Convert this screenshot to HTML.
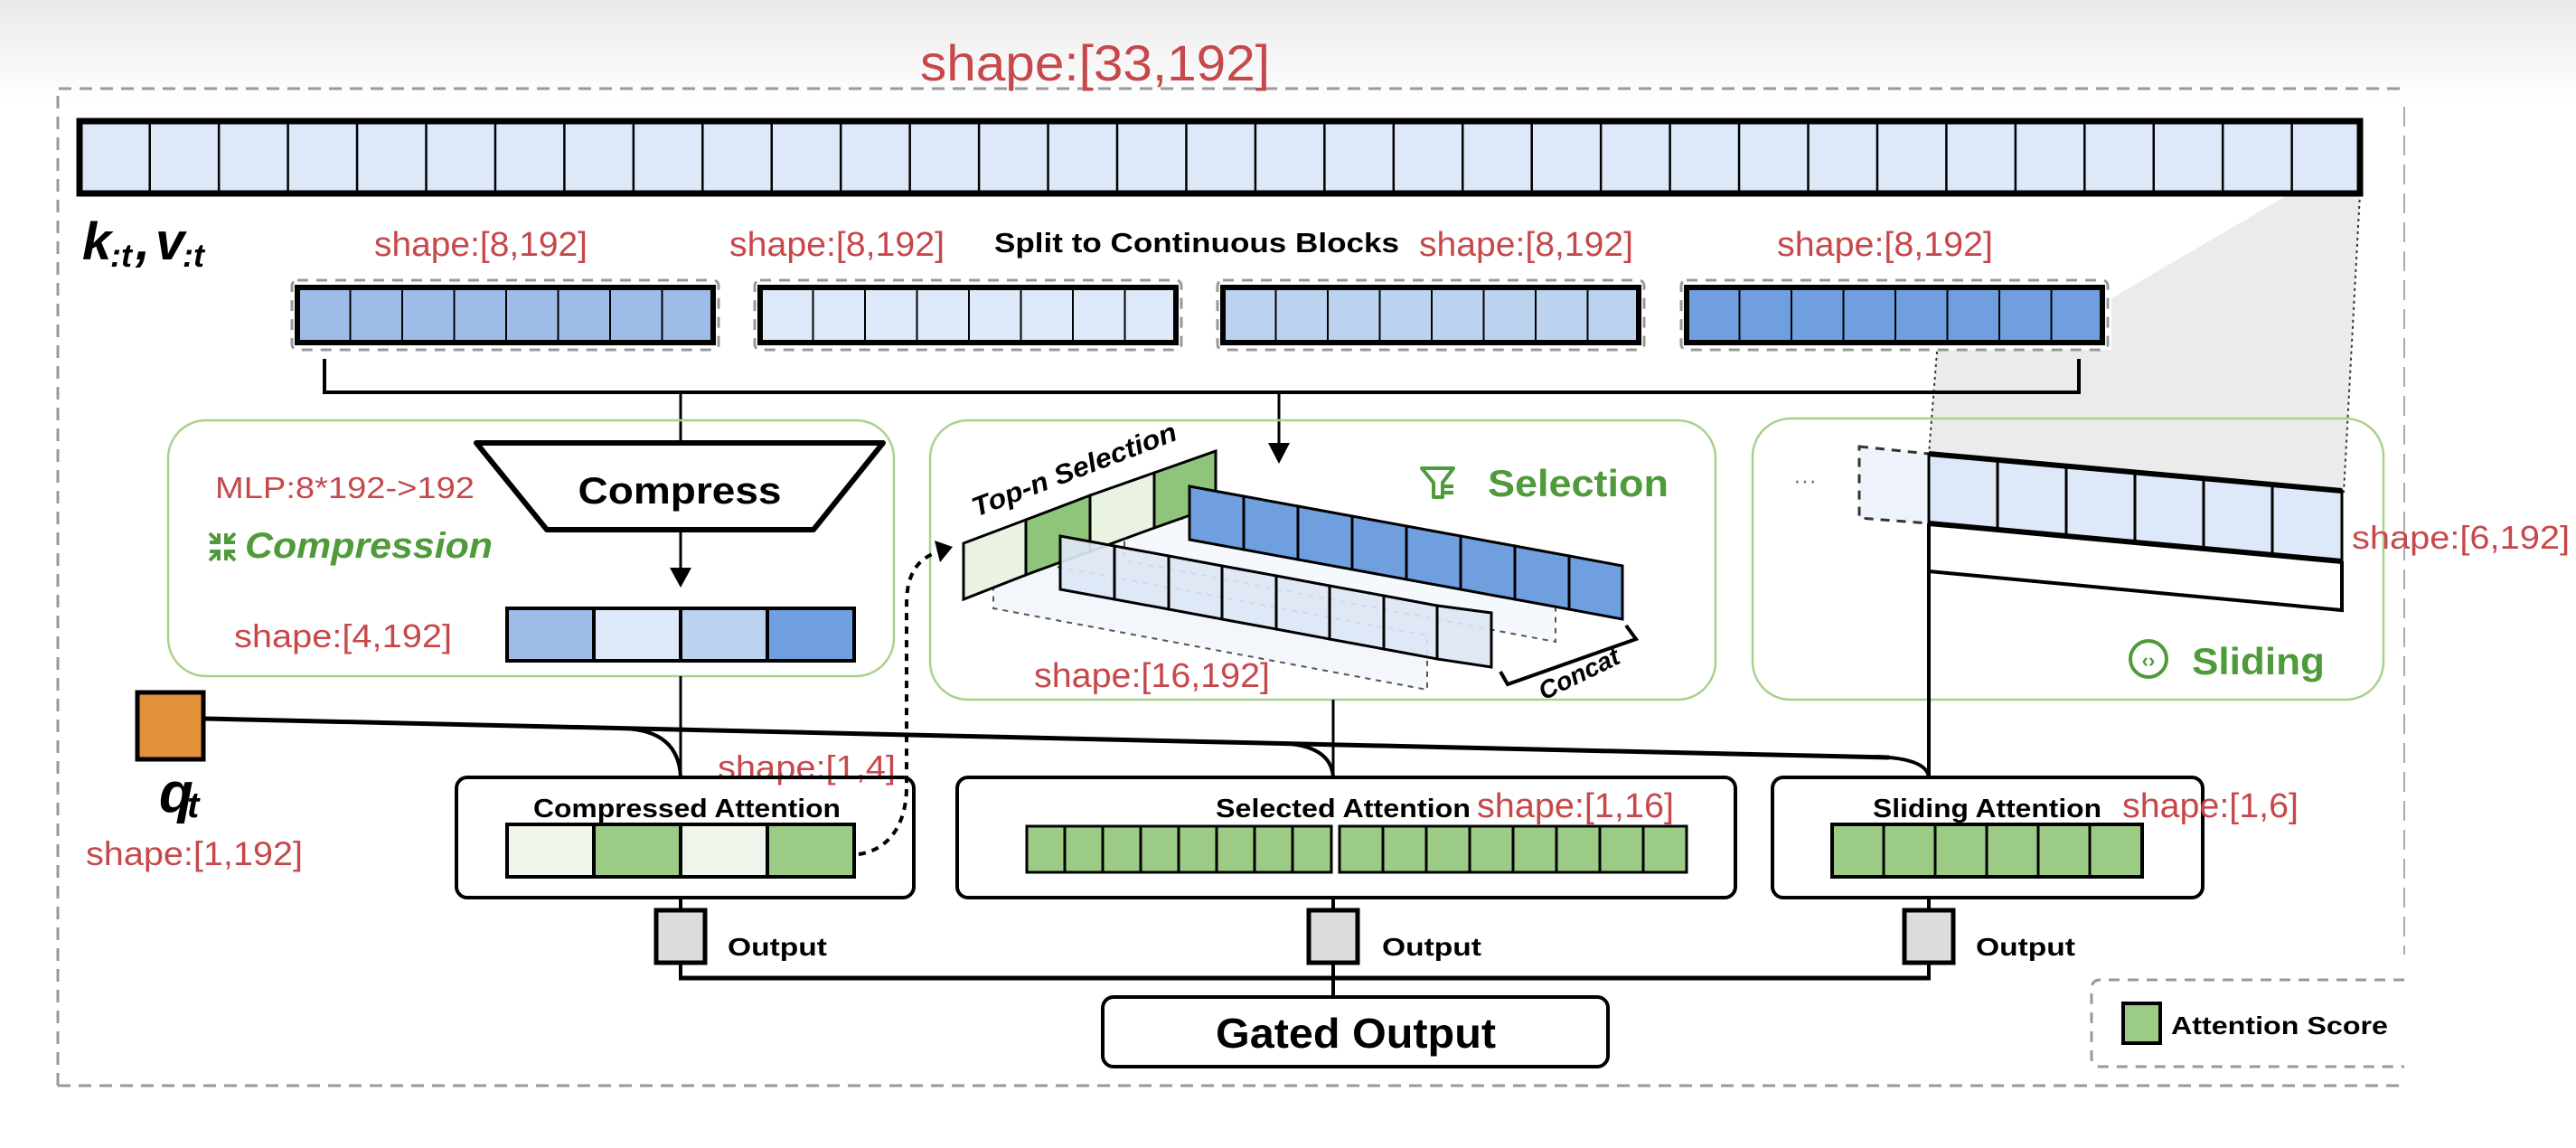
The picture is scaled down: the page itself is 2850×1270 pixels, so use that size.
<!DOCTYPE html>
<html><head><meta charset="utf-8"><style>
html,body{margin:0;padding:0;background:#fff;}
svg{display:block;}
text{font-family:"Liberation Sans","DejaVu Sans",sans-serif;}
.red{fill:#c6484a;}
.b{font-weight:bold;}
</style></head><body>
<svg width="2850" height="1270" viewBox="0 0 2850 1270" xmlns="http://www.w3.org/2000/svg">
<defs>
<linearGradient id="tg" x1="0" y1="0" x2="0" y2="1"><stop offset="0" stop-color="#e9e9e9"/><stop offset="1" stop-color="#ffffff"/></linearGradient>
<pattern id="p76" patternUnits="userSpaceOnUse" x="88" y="0" width="76.45" height="100"><line x1="0" y1="0" x2="0" y2="100" stroke="#000" stroke-width="5"/></pattern>
<pattern id="p57" patternUnits="userSpaceOnUse" x="0" y="0" width="57.5" height="100"><line x1="0" y1="0" x2="0" y2="100" stroke="#000" stroke-width="4"/></pattern>
</defs>
<rect x="0" y="0" width="2850" height="110" fill="url(#tg)"/>
<path d="M64,1201 L64,98 L2660,98" fill="none" stroke="#999" stroke-width="3" stroke-dasharray="14,9"/>
<path d="M2660,118 L2660,1056" fill="none" stroke="#aaa" stroke-width="2" stroke-dasharray="22,10"/>
<path d="M64,1201 L2660,1201" fill="none" stroke="#999" stroke-width="3" stroke-dasharray="14,9"/>
<text x="1018" y="89" class="red" font-size="56" textLength="387" lengthAdjust="spacingAndGlyphs">shape:[33,192]</text>

<polygon points="2611,214 2534,214 2336,330 2336,387 2143,387 2134,502 2593,545" fill="#ebebeb"/>
<path d="M2143,389 L2134,502 M2611,214 L2593,545" stroke="#333" stroke-width="2" stroke-dasharray="3,4" fill="none"/>

<rect x="88" y="134" width="2523" height="80" fill="#dde8f8"/>
<rect x="88" y="134" width="2523" height="80" fill="url(#p76)" stroke="#000" stroke-width="7"/>
<g style="font-family:'Liberation Serif','DejaVu Serif',serif;font-style:italic;font-weight:bold">
<text x="91" y="287" font-size="58">k</text>
<text x="122" y="295" font-size="36">:t</text>
<text x="150" y="287" font-size="58">,</text>
<text x="172" y="287" font-size="58">v</text>
<text x="202" y="295" font-size="36">:t</text>
</g>

<text x="414" y="283" class="red" font-size="38" textLength="236" lengthAdjust="spacingAndGlyphs">shape:[8,192]</text>
<text x="807" y="283" class="red" font-size="38" textLength="238" lengthAdjust="spacingAndGlyphs">shape:[8,192]</text>
<text x="1100" y="279" class="b" font-size="31" textLength="448" lengthAdjust="spacingAndGlyphs">Split to Continuous Blocks</text>
<text x="1570" y="283" class="red" font-size="38" textLength="237" lengthAdjust="spacingAndGlyphs">shape:[8,192]</text>
<text x="1966" y="283" class="red" font-size="38" textLength="239" lengthAdjust="spacingAndGlyphs">shape:[8,192]</text>

<g transform="translate(329,318)">
<rect x="-6" y="-8" width="472" height="77" rx="6" fill="none" stroke="#999" stroke-width="3" stroke-dasharray="12,9"/>
<rect width="460" height="61" fill="#9dbde8"/><rect width="460" height="61" fill="url(#p57)" stroke="#000" stroke-width="6"/></g>
<g transform="translate(841,318)">
<rect x="-6" y="-8" width="472" height="77" rx="6" fill="none" stroke="#999" stroke-width="3" stroke-dasharray="12,9"/>
<rect width="460" height="61" fill="#dde8f8"/><rect width="460" height="61" fill="url(#p57)" stroke="#000" stroke-width="6"/></g>
<g transform="translate(1353,318)">
<rect x="-6" y="-8" width="472" height="77" rx="6" fill="none" stroke="#999" stroke-width="3" stroke-dasharray="12,9"/>
<rect width="460" height="61" fill="#bcd3f0"/><rect width="460" height="61" fill="url(#p57)" stroke="#000" stroke-width="6"/></g>
<g transform="translate(1866,318)">
<rect x="-6" y="-8" width="472" height="77" rx="6" fill="none" stroke="#999" stroke-width="3" stroke-dasharray="12,9"/>
<rect width="460" height="61" fill="#6f9fdf"/><rect width="460" height="61" fill="url(#p57)" stroke="#000" stroke-width="6"/></g>

<path d="M359,397 L359,434 L2300,434 L2300,397" fill="none" stroke="#000" stroke-width="4"/>
<line x1="753" y1="434" x2="753" y2="490" stroke="#000" stroke-width="3"/>
<line x1="1415" y1="434" x2="1415" y2="495" stroke="#000" stroke-width="3"/>
<polygon points="1403,490 1427,490 1415,513" fill="#000"/>

<rect x="186" y="465" width="803" height="283" rx="42" fill="none" stroke="#a9d18e" stroke-width="2.5"/>
<rect x="1029" y="465" width="869" height="309" rx="42" fill="none" stroke="#a9d18e" stroke-width="2.5"/>
<rect x="1939" y="463" width="698" height="311" rx="42" fill="none" stroke="#a9d18e" stroke-width="2.5"/>

<polygon points="527,490 977,490 900,586 605,586" fill="#fff" stroke="#000" stroke-width="6" stroke-linejoin="round"/>
<text x="752" y="557" text-anchor="middle" class="b" font-size="42" textLength="225" lengthAdjust="spacingAndGlyphs">Compress</text>
<line x1="753" y1="586" x2="753" y2="630" stroke="#000" stroke-width="3"/>
<polygon points="741,628 765,628 753,650" fill="#000"/>
<text x="238" y="551" class="red" font-size="33" textLength="287" lengthAdjust="spacingAndGlyphs">MLP:8*192-&gt;192</text>
<g stroke="#4f9a3a" stroke-width="4" fill="none">
<path d="M232,590 L242,600 M242,590 L242,600 L232,600 M260,590 L250,600 M250,590 L250,600 L260,600 M232,620 L242,610 M242,620 L242,610 L232,610 M260,620 L250,610 M250,620 L250,610 L260,610"/>
</g>
<text x="271" y="617" fill="#4f9a3a" font-style="italic" class="b" font-size="40" textLength="274" lengthAdjust="spacingAndGlyphs">Compression</text>
<text x="259" y="716" class="red" font-size="36" textLength="241" lengthAdjust="spacingAndGlyphs">shape:[4,192]</text>
<rect x="561" y="673" width="96" height="58" fill="#9dbde8"/>
<rect x="657" y="673" width="96" height="58" fill="#dde8f8"/>
<rect x="753" y="673" width="96" height="58" fill="#bcd3f0"/>
<rect x="849" y="673" width="96" height="58" fill="#6f9fdf"/>
<path d="M561,673 H945 V731 H561 Z M657,673 V731 M753,673 V731 M849,673 V731" fill="none" stroke="#000" stroke-width="4"/>

<polygon points="1244,562 1721,652 1721,710 1244,620" fill="#eef3fb" fill-opacity="0.6" stroke="#555" stroke-width="2" stroke-dasharray="6,6"/>
<polygon points="1099,614 1579,703 1579,763 1099,673" fill="#eef3fb" fill-opacity="0.7" stroke="#555" stroke-width="2" stroke-dasharray="6,6"/>
<polygon points="1066,601 1135,575 1135,636 1066,663" fill="#eaf3e2" stroke="#000" stroke-width="3"/>
<polygon points="1135,575 1206,548 1206,610 1135,636" fill="#8fc57a" stroke="#000" stroke-width="3"/>
<polygon points="1206,548 1277,523 1277,584 1206,610" fill="#eaf3e2" stroke="#000" stroke-width="3"/>
<polygon points="1277,523 1345,499 1345,560 1277,584" fill="#8fc57a" stroke="#000" stroke-width="3"/>
<text transform="translate(1080,572) rotate(-21)" class="b" font-style="italic" font-size="30" textLength="240" lengthAdjust="spacingAndGlyphs">Top-n Selection</text>
<g stroke="#000" stroke-width="3">
<polygon points="1316,538 1376,549 1376,608 1316,597" fill="#6f9fdf"/>
<polygon points="1376,549 1436,560 1436,619 1376,608" fill="#6f9fdf"/>
<polygon points="1436,560 1496,571 1496,630 1436,619" fill="#6f9fdf"/>
<polygon points="1496,571 1556,582 1556,641 1496,630" fill="#6f9fdf"/>
<polygon points="1556,582 1616,593 1616,652 1556,641" fill="#6f9fdf"/>
<polygon points="1616,593 1676,604 1676,663 1616,652" fill="#6f9fdf"/>
<polygon points="1676,604 1736,615 1736,674 1676,663" fill="#6f9fdf"/>
<polygon points="1736,615 1795,626 1795,685 1736,674" fill="#6f9fdf"/>
</g>
<g stroke="#000" stroke-width="3" fill="#dde6f5" fill-opacity="0.92">
<polygon points="1173,593 1233,604 1233,663 1173,652"/>
<polygon points="1233,604 1293,615 1293,674 1233,663"/>
<polygon points="1293,615 1352,626 1352,685 1293,674"/>
<polygon points="1352,626 1412,637 1412,696 1352,685"/>
<polygon points="1412,637 1471,648 1471,707 1412,696"/>
<polygon points="1471,648 1531,659 1531,718 1471,707"/>
<polygon points="1531,659 1590,670 1590,729 1531,718"/>
<polygon points="1590,670 1650,678 1650,738 1590,729"/>
</g>
<path d="M1799,692 L1810,707 L1668,757 L1660,743" fill="none" stroke="#000" stroke-width="4"/>
<text transform="translate(1708,775) rotate(-26)" class="b" font-style="italic" font-size="28" textLength="96" lengthAdjust="spacingAndGlyphs">Concat</text>
<text x="1144" y="760" class="red" font-size="38" textLength="261" lengthAdjust="spacingAndGlyphs">shape:[16,192]</text>
<path d="M1573,518 L1608,518 L1596,534 L1596,550 L1586,550 L1586,534 Z M1598,538 H1608 M1598,545 H1608" fill="none" stroke="#4f9a3a" stroke-width="4" stroke-linejoin="round"/>
<text x="1646" y="549" fill="#4f9a3a" class="b" font-size="42" textLength="200" lengthAdjust="spacingAndGlyphs">Selection</text>

<polygon points="2057,494 2134,502 2134,579 2057,573" fill="#eef3fb" stroke="#333" stroke-width="3" stroke-dasharray="10,8"/>
<text x="1984" y="540" font-size="26" fill="#777">···</text>
<g stroke="#000" stroke-width="3" fill="#dde8f8">
<polygon points="2134,502 2210,509 2210,586 2134,579"/>
<polygon points="2210,509 2286,516 2286,593 2210,586"/>
<polygon points="2286,516 2362,523 2362,600 2286,593"/>
<polygon points="2362,523 2438,530 2438,607 2362,600"/>
<polygon points="2438,530 2514,536 2514,614 2438,607"/>
<polygon points="2514,536 2591,543 2591,621 2514,614"/>
</g>
<path d="M2134,502 L2591,543 M2134,579 L2591,621" stroke="#000" stroke-width="6" fill="none"/>
<path d="M2134,579 L2134,860 M2134,632 L2591,675 L2591,621" stroke="#000" stroke-width="4" fill="none"/>
<text x="2602" y="607" class="red" font-size="36" textLength="241" lengthAdjust="spacingAndGlyphs">shape:[6,192]</text>
<circle cx="2377" cy="729" r="20" fill="none" stroke="#4f9a3a" stroke-width="4"/>
<text x="2377" y="738" text-anchor="middle" fill="#4f9a3a" font-size="22" class="b">‹›</text>
<text x="2425" y="746" fill="#4f9a3a" class="b" font-size="42" textLength="147" lengthAdjust="spacingAndGlyphs">Sliding</text>

<rect x="152" y="766" width="73" height="74" fill="#e0913a" stroke="#000" stroke-width="5"/>
<g style="font-family:'Liberation Serif','DejaVu Serif',serif;font-style:italic;font-weight:bold">
<text x="176" y="898" font-size="62">q</text>
<text x="207" y="904" font-size="40">t</text>
</g>
<text x="95" y="957" class="red" font-size="37" textLength="240" lengthAdjust="spacingAndGlyphs">shape:[1,192]</text>
<path d="M227,795 L2090,838" stroke="#000" stroke-width="5" fill="none"/>
<path d="M690,806 Q751,808 753,860 M1415,822 Q1473,824 1475,860 M2075,837 Q2132,839 2134,860" stroke="#000" stroke-width="4" fill="none"/>
<line x1="753" y1="748" x2="753" y2="860" stroke="#000" stroke-width="3"/>
<line x1="1475" y1="774" x2="1475" y2="860" stroke="#000" stroke-width="3"/>
<text x="794" y="861" class="red" font-size="36" textLength="197" lengthAdjust="spacingAndGlyphs">shape:[1,4]</text>

<rect x="505" y="860" width="506" height="133" rx="12" fill="none" stroke="#000" stroke-width="4"/>
<text x="760" y="904" text-anchor="middle" class="b" font-size="29" textLength="340" lengthAdjust="spacingAndGlyphs">Compressed Attention</text>
<rect x="561" y="912" width="96" height="58" fill="#eef5ea"/>
<rect x="657" y="912" width="96" height="58" fill="#9ccb86"/>
<rect x="753" y="912" width="96" height="58" fill="#eef5ea"/>
<rect x="849" y="912" width="96" height="58" fill="#9ccb86"/>
<path d="M561,912 H945 V970 H561 Z M657,912 V970 M753,912 V970 M849,912 V970" fill="none" stroke="#000" stroke-width="4"/>
<path d="M950,945 C985,940 1003,910 1003,870 L1003,668 C1003,632 1018,616 1040,610" fill="none" stroke="#000" stroke-width="4" stroke-dasharray="8,7"/>
<polygon points="1034,598 1054,605 1040,622" fill="#000"/>

<rect x="1059" y="860" width="861" height="133" rx="12" fill="none" stroke="#000" stroke-width="4"/>
<text x="1345" y="904" class="b" font-size="29" textLength="282" lengthAdjust="spacingAndGlyphs">Selected Attention</text>
<text x="1634" y="904" class="red" font-size="38" textLength="218" lengthAdjust="spacingAndGlyphs">shape:[1,16]</text>
<g stroke="#000" stroke-width="3" fill="#9ccb86">
<rect x="1136" y="914" width="337" height="51"/>
<rect x="1482" y="914" width="384" height="51"/>
</g>
<path d="M1178,914 V965 M1220,914 V965 M1262,914 V965 M1304,914 V965 M1346,914 V965 M1388,914 V965 M1430,914 V965 M1530,914 V965 M1578,914 V965 M1626,914 V965 M1674,914 V965 M1722,914 V965 M1770,914 V965 M1818,914 V965" stroke="#000" stroke-width="3"/>

<rect x="1961" y="860" width="476" height="133" rx="12" fill="none" stroke="#000" stroke-width="4"/>
<text x="2072" y="904" class="b" font-size="29" textLength="253" lengthAdjust="spacingAndGlyphs">Sliding Attention</text>
<text x="2348" y="904" class="red" font-size="38" textLength="195" lengthAdjust="spacingAndGlyphs">shape:[1,6]</text>
<rect x="2027" y="912" width="343" height="58" fill="#9ccb86" stroke="#000" stroke-width="4"/>
<path d="M2084,912 V970 M2141,912 V970 M2198,912 V970 M2255,912 V970 M2312,912 V970" stroke="#000" stroke-width="3"/>

<g stroke="#000" stroke-width="4">
<line x1="753" y1="993" x2="753" y2="1082"/><line x1="1475" y1="993" x2="1475" y2="1103"/><line x1="2134" y1="993" x2="2134" y2="1082"/>
<line x1="751" y1="1082" x2="2136" y2="1082" stroke-width="5"/>
</g>
<g fill="#dcdcdc" stroke="#000" stroke-width="5">
<rect x="726" y="1007" width="54" height="58"/>
<rect x="1448" y="1007" width="54" height="58"/>
<rect x="2107" y="1007" width="54" height="58"/>
</g>
<text x="805" y="1057" class="b" font-size="28" textLength="110" lengthAdjust="spacingAndGlyphs">Output</text>
<text x="1529" y="1057" class="b" font-size="28" textLength="110" lengthAdjust="spacingAndGlyphs">Output</text>
<text x="2186" y="1057" class="b" font-size="28" textLength="110" lengthAdjust="spacingAndGlyphs">Output</text>

<rect x="1220" y="1103" width="559" height="77" rx="12" fill="#fff" stroke="#000" stroke-width="4"/>
<text x="1500" y="1159" text-anchor="middle" class="b" font-size="46" textLength="310" lengthAdjust="spacingAndGlyphs">Gated Output</text>

<path d="M2660,1084 L2324,1084 Q2314,1084 2314,1094 L2314,1170 Q2314,1180 2324,1180 L2660,1180" fill="none" stroke="#999" stroke-width="3" stroke-dasharray="12,9"/>
<rect x="2349" y="1110" width="41" height="44" fill="#9ccb86" stroke="#000" stroke-width="4"/>
<text x="2402" y="1144" class="b" font-size="28" textLength="240" lengthAdjust="spacingAndGlyphs">Attention Score</text>
</svg>
</body></html>
